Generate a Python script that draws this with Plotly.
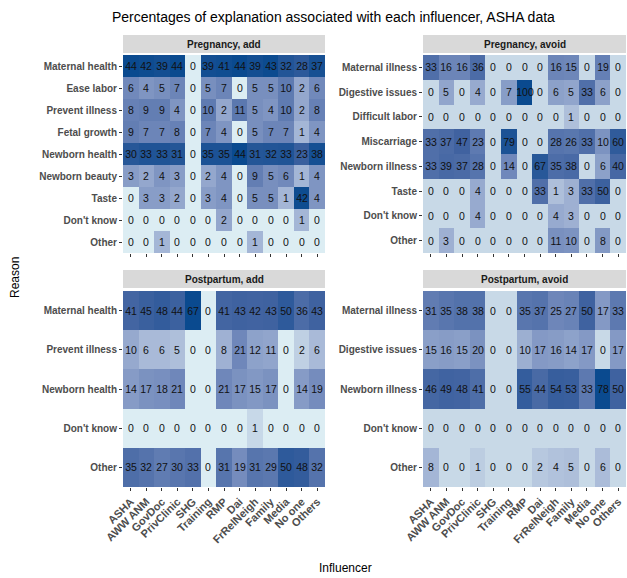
import plotly.graph_objects as go
import numpy as np

influencers = ["ASHA", "AWW ANM", "GovDoc", "PrivClinic", "SHG", "Training", "RMP",
               "Dai", "FrRelNeigh", "Family", "Media", "No one", "Others"]

preg_add_reasons = ["Maternal health", "Ease labor", "Prevent illness", "Fetal growth",
                    "Newborn health", "Newborn beauty", "Taste", "Don't know", "Other"]
preg_add_values = [
    [44, 42, 39, 44, 0, 39, 41, 44, 39, 43, 32, 28, 37],
    [6, 4, 5, 7, 0, 5, 7, 0, 5, 5, 10, 2, 6],
    [8, 9, 9, 4, 0, 10, 2, 11, 5, 4, 10, 2, 8],
    [9, 7, 7, 8, 0, 7, 4, 0, 5, 7, 7, 1, 4],
    [30, 33, 33, 31, 0, 35, 35, 44, 31, 32, 33, 23, 38],
    [3, 2, 4, 3, 0, 2, 4, 0, 9, 5, 6, 1, 4],
    [0, 3, 3, 2, 0, 3, 4, 0, 5, 5, 1, 42, 4],
    [0, 0, 0, 0, 0, 0, 2, 0, 0, 0, 0, 1, 0],
    [0, 0, 1, 0, 0, 0, 0, 0, 1, 0, 0, 0, 0],
]

preg_avoid_reasons = ["Maternal illness", "Digestive issues", "Difficult labor", "Miscarriage",
                      "Newborn illness", "Taste", "Don't know", "Other"]
preg_avoid_values = [
    [33, 16, 16, 36, 0, 0, 0, 0, 16, 15, 0, 19, 0],
    [0, 5, 0, 4, 0, 7, 100, 0, 6, 5, 33, 6, 0],
    [0, 0, 0, 0, 0, 0, 0, 0, 0, 1, 0, 0, 0],
    [33, 37, 47, 23, 0, 79, 0, 0, 28, 26, 33, 10, 60],
    [33, 39, 37, 28, 0, 14, 0, 67, 35, 38, 0, 6, 40],
    [0, 0, 0, 4, 0, 0, 0, 33, 1, 3, 33, 50, 0],
    [0, 0, 0, 4, 0, 0, 0, 0, 4, 3, 0, 0, 0],
    [0, 3, 0, 0, 0, 0, 0, 0, 11, 10, 0, 8, 0],
]

post_add_reasons = ["Maternal health", "Prevent illness", "Newborn health", "Don't know", "Other"]
post_add_values = [
    [41, 45, 48, 44, 67, 0, 41, 43, 42, 43, 50, 36, 43],
    [10, 6, 6, 5, 0, 0, 8, 21, 12, 11, 0, 2, 6],
    [14, 17, 18, 21, 0, 0, 21, 17, 15, 17, 0, 14, 19],
    [0, 0, 0, 0, 0, 0, 0, 0, 1, 0, 0, 0, 0],
    [35, 32, 27, 30, 33, 0, 31, 19, 31, 29, 50, 48, 32],
]

post_avoid_reasons = ["Maternal illness", "Digestive issues", "Newborn illness", "Don't know", "Other"]
post_avoid_values = [
    [31, 35, 38, 38, 0, 0, 35, 37, 25, 27, 50, 17, 33],
    [15, 16, 15, 20, 0, 0, 10, 17, 16, 14, 17, 0, 17],
    [46, 49, 48, 41, 0, 0, 55, 44, 54, 53, 33, 78, 50],
    [0, 0, 0, 0, 0, 0, 0, 0, 0, 0, 0, 0, 0],
    [8, 0, 0, 1, 0, 0, 0, 2, 4, 5, 0, 6, 0],
]

facet_titles = ["Pregnancy, add", "Pregnancy, avoid", "Postpartum, add", "Postpartum, avoid"]

W, H = 627, 578
FONT = "Liberation Sans"

def px_x(p):
    return p / W

def px_y(p):
    return 1 - p / H

# panel pixel boxes: (x0, x1, ytop, ybottom)
panels = [
    (123, 325, 55, 253),
    (423, 626, 55, 253),
    (123, 325, 291, 487),
    (423, 626, 291, 487),
]
strips = [(35, 53), (35, 53), (270, 288), (270, 288)]

facets = [
    (preg_add_reasons, preg_add_values, "#dcedf3", 0.3),
    (preg_avoid_reasons, preg_avoid_values, "#c8d9e7", 0.3),
    (post_add_reasons, post_add_values, "#dcedf3", 0.5),
    (post_avoid_reasons, post_avoid_values, "#c8d9e7", 0.5),
]

fig = go.Figure()
shapes = []
annotations = []

for i, ((reasons, vals, low, pw), (x0, x1, yt, yb), (st, sb), title) in enumerate(
        zip(facets, panels, strips, facet_titles)):
    arr = np.array(vals, dtype=float)
    mx = arr.max() if arr.max() > 0 else 1
    z = (arr / mx) ** pw
    cs = [[0, low], [0.3, "#a9bad8"], [0.55, "#7189bb"], [0.8, "#3f62a0"], [1, "#0a4a8f"]]
    n = "" if i == 0 else str(i + 1)
    fig.add_trace(go.Heatmap(
        z=z, x=influencers, y=reasons,
        text=[[str(v) for v in row] for row in vals],
        texttemplate="%{text}",
        textfont=dict(family=FONT, size=10.5, color="#111111"),
        colorscale=cs, zmin=0, zmax=1, showscale=False,
        xaxis="x" + n, yaxis="y" + n, hoverinfo="skip",
    ))
    bottom = i >= 2
    fig.layout["xaxis" + n] = dict(
        domain=[px_x(x0), px_x(x1)], anchor="y" + n, automargin=False,
        type="category", categoryorder="array", categoryarray=influencers,
        showgrid=False, zeroline=False, showline=False,
        ticks="outside", ticklen=3, tickcolor="#333333", tickwidth=1,
        showticklabels=bottom, tickangle=-45,
        tickfont=dict(family=FONT, size=11, color="#4d4d4d", weight="bold"),
    )
    fig.layout["yaxis" + n] = dict(
        domain=[px_y(yb), px_y(yt)], anchor="x" + n, automargin=False,
        type="category", categoryorder="array", categoryarray=reasons,
        autorange="reversed",
        showgrid=False, zeroline=False, showline=False,
        ticks="outside", ticklen=3, tickcolor="#333333", tickwidth=1,
        tickfont=dict(family=FONT, size=10, color="#4d4d4d", weight="bold"),
    )
    shapes.append(dict(type="rect", xref="paper", yref="paper",
                       x0=px_x(x0), x1=px_x(x1), y0=px_y(sb), y1=px_y(st),
                       fillcolor="#d9d9d9", line=dict(width=0), layer="below"))
    annotations.append(dict(text=f"<b>{title}</b>", xref="paper", yref="paper",
                            x=px_x((x0 + x1) / 2), y=px_y((st + sb) / 2),
                            showarrow=False, xanchor="center", yanchor="middle",
                            font=dict(family=FONT, size=10, color="#1a1a1a")))

annotations.append(dict(text="Percentages of explanation associated with each influencer, ASHA data",
                        xref="paper", yref="paper", x=px_x(333), y=px_y(17),
                        showarrow=False, xanchor="center", yanchor="middle",
                        font=dict(family=FONT, size=14, color="#000000")))
annotations.append(dict(text="Influencer", xref="paper", yref="paper",
                        x=px_x(345), y=px_y(568), showarrow=False,
                        xanchor="center", yanchor="middle",
                        font=dict(family=FONT, size=12, color="#000000")))
annotations.append(dict(text="Reason", xref="paper", yref="paper",
                        x=px_x(15), y=px_y(278), showarrow=False, textangle=-90,
                        xanchor="center", yanchor="middle",
                        font=dict(family=FONT, size=12, color="#000000")))

fig.update_layout(
    width=W, height=H,
    margin=dict(l=0, r=0, t=0, b=0),
    paper_bgcolor="white", plot_bgcolor="white",
    shapes=shapes, annotations=annotations,
    font=dict(family=FONT),
)

fig.write_html("out.html",
               config={"displayModeBar": False},
               post_script="document.body.style.margin='0px';document.body.style.overflow='hidden';")
